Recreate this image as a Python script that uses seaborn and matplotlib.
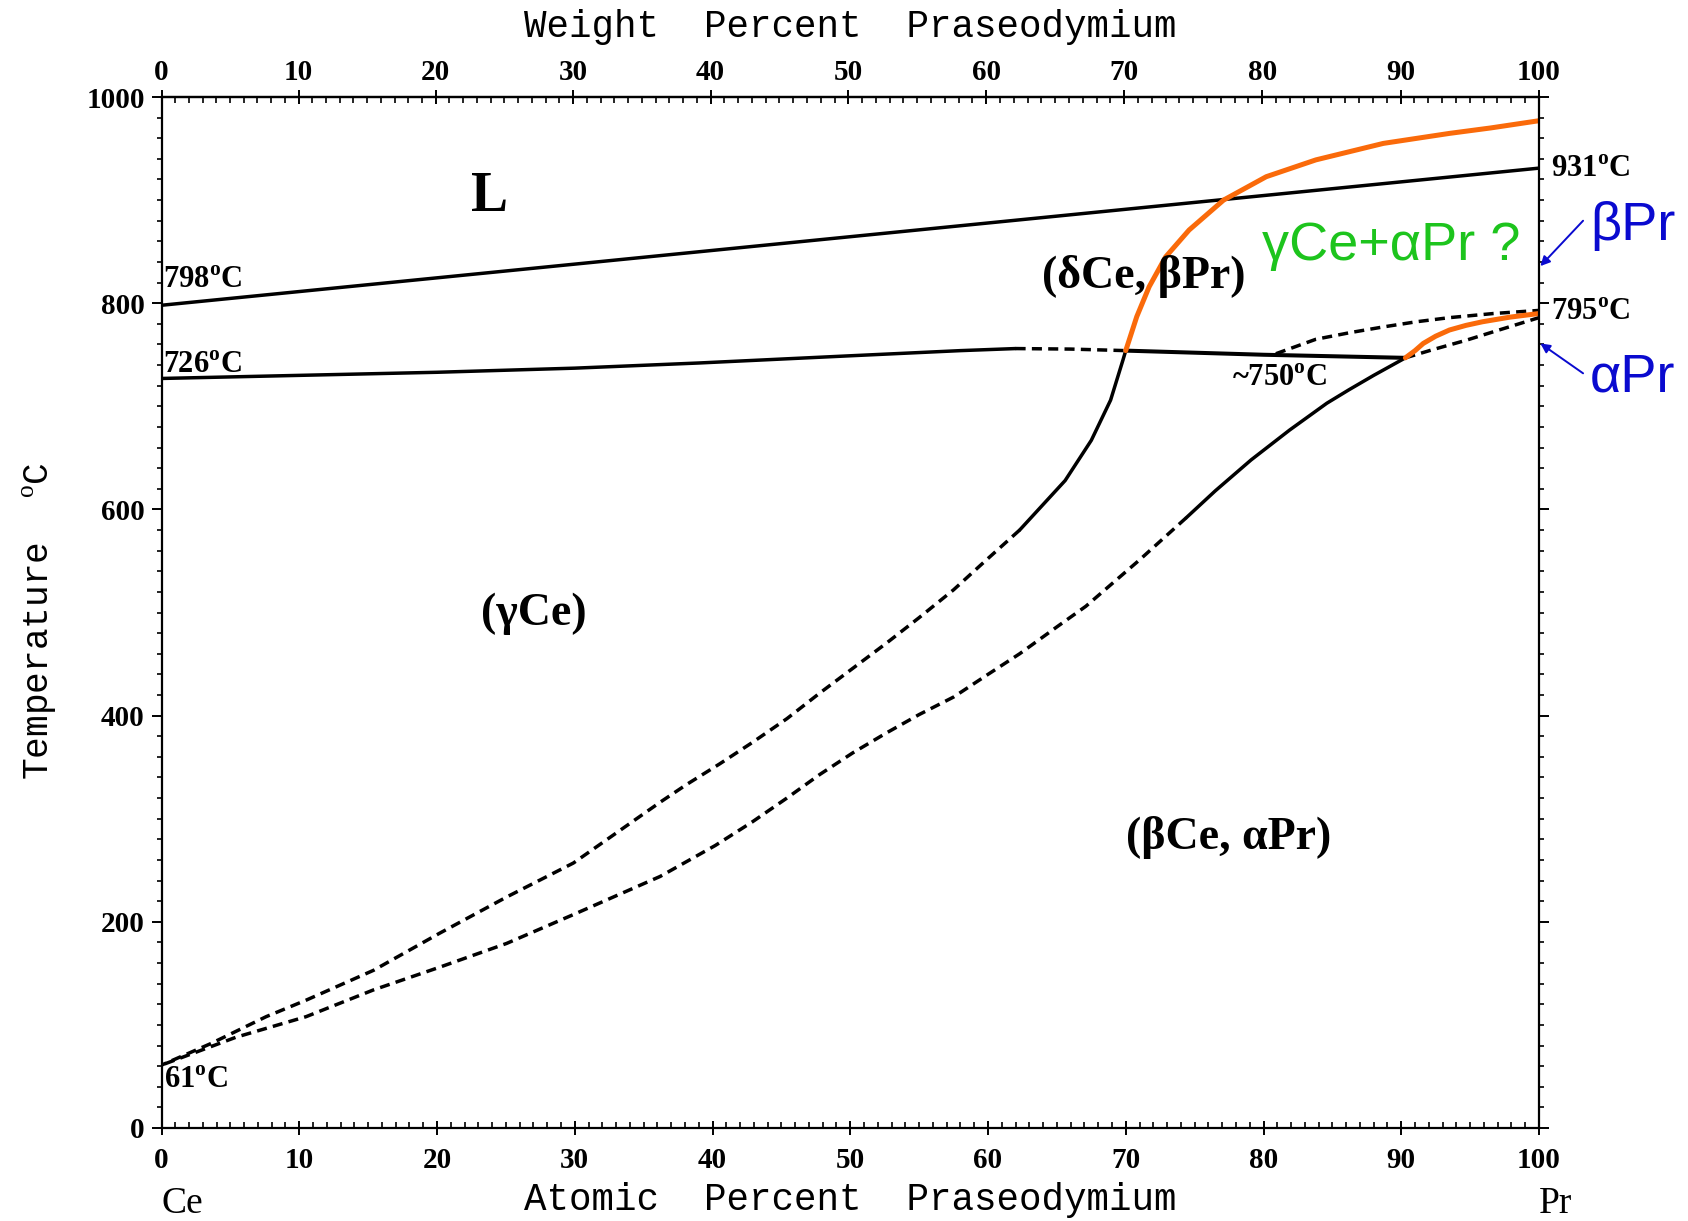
import numpy as np
import matplotlib
matplotlib.use("Agg")
import matplotlib.pyplot as plt
import seaborn as sns
from matplotlib.ticker import MultipleLocator

# ---------------- data (atomic % Pr, temperature in deg C) ----------------
liq_x = [0, 100]
liq_T = [798, 931]

sol_x = [0, 10, 20, 30, 39, 50, 58, 62]
sol_T = [727, 730, 733, 737, 742, 749, 754, 756]
sol_dash_x = [62, 66, 70]
sol_dash_T = [756, 755.5, 754]

iso_x = [70, 80, 90.3]
iso_T = [754, 750, 747]

lsolv_x = [70, 69.8, 68.9, 67.5, 65.6, 63.4, 62.3]
lsolv_T = [754, 745, 706, 667, 628, 596, 580]
lsolv_dash_x = [62.3, 59.8, 57.5, 55.0, 52.6, 50.2, 47.8, 45.4, 42.9, 40.5, 38.1,
                36.2, 33.0, 29.9, 25.05, 20.2, 15.4, 10.5, 7.6, 3.6, 0]
lsolv_dash_T = [580, 550, 522, 495, 470, 446, 422, 397, 374, 353, 333,
                316, 286, 257, 224, 189, 153, 124, 108, 82, 61]

rsolv_x = [90.3, 88, 86.2, 84.6, 81.9, 79.1, 76.5, 74.4]
rsolv_T = [747, 730, 716, 703, 677, 648, 618, 592]
rsolv_dash_x = [74.4, 71.0, 67.1, 65.1, 62.3, 60.0, 57.5, 55.0, 52.6, 50.2, 47.8,
                45.4, 42.9, 40.2, 36.2, 29.9, 25.05, 20.2, 15.4, 10.5, 5.4, 0]
rsolv_dash_T = [592, 551, 506, 487, 460, 440, 418, 401, 383, 364, 343,
                320, 297, 274, 244, 207, 179, 156, 134, 108, 88, 61]

pr_up_dash_x = [80.9, 83.8, 86.3, 88.7, 91.1, 93.5, 96.7, 100]
pr_up_dash_T = [751, 765, 771.5, 777, 782, 786, 790, 793]
pr_lo_dash_x = [90.3, 92.3, 94.7, 97.1, 100]
pr_lo_dash_T = [747, 755, 764, 774, 786]

orange_up_x = [70, 70.8, 71.7, 72.9, 74.6, 77.1, 80.2, 83.8, 88.7, 93.5, 96.5, 100]
orange_up_T = [754, 787, 816, 845, 871, 900, 922.7, 939, 955, 964.7, 970, 977]
orange_lo_x = [90.3, 91, 91.6, 92.5, 93.5, 94.7, 95.9, 97.9, 100]
orange_lo_T = [747, 754, 761, 768, 774, 778.5, 782, 786.5, 790]

x_ticks = list(range(0, 101, 10))
y_ticks = list(range(0, 1001, 200))
wt_ticks = list(range(0, 101, 10))

M_CE, M_PR = 140.116, 140.908

# ---------------- style ----------------
sns.set_style("ticks")
plt.rcParams['font.family'] = ['Liberation Serif', 'DejaVu Serif']
plt.rcParams['mathtext.fontset'] = 'custom'
plt.rcParams['mathtext.rm'] = 'Liberation Serif'
plt.rcParams['mathtext.bf'] = 'Liberation Serif:bold'
plt.rcParams['axes.linewidth'] = 1.6
for key in ['text.color', 'axes.labelcolor', 'xtick.color', 'ytick.color', 'axes.edgecolor']:
    plt.rcParams[key] = 'black'

fig = plt.figure(figsize=(16.88, 12.21), dpi=100)
ax = fig.add_axes([161.5 / 1688, 1 - 1128 / 1221, 1377.5 / 1688, 1031 / 1221])

BLACK_LW = 2.5
DASH = (0, (2.9, 1.8))


def draw(x, y, color="black", lw=BLACK_LW, ls="-"):
    sns.lineplot(x=x, y=y, ax=ax, color=color, linewidth=lw, linestyle=ls,
                 sort=False, estimator=None, legend=False)


draw(liq_x, liq_T)
draw(sol_x, sol_T)
draw(sol_dash_x, sol_dash_T, ls=DASH)
draw(iso_x, iso_T, lw=2.9)
draw(lsolv_x, lsolv_T)
draw(lsolv_dash_x, lsolv_dash_T, ls=DASH)
draw(rsolv_x, rsolv_T)
draw(rsolv_dash_x, rsolv_dash_T, ls=DASH)
draw(pr_up_dash_x, pr_up_dash_T, ls=DASH)
draw(pr_lo_dash_x, pr_lo_dash_T, ls=DASH)
ORANGE = "#FA6A0A"
draw(orange_up_x, orange_up_T, color=ORANGE, lw=3.6)
draw(orange_lo_x, orange_lo_T, color=ORANGE, lw=3.6)

ax.set_xlim(0, 100)
ax.set_ylim(0, 1000)
ax.grid(False)
for s in ax.spines.values():
    s.set_color("black")
    s.set_linewidth(1.6)

# ticks
TICK_FS = 21
ax.set_xticks(x_ticks, [str(v) for v in x_ticks], fontweight="bold", fontsize=TICK_FS)
ax.set_yticks(y_ticks, [str(v) for v in y_ticks], fontweight="bold", fontsize=TICK_FS)
ax.xaxis.set_minor_locator(MultipleLocator(1))
ax.yaxis.set_minor_locator(MultipleLocator(20))
ax.tick_params(axis="x", which="major", direction="inout", length=10, width=1.4,
               pad=9, top=False, bottom=True, colors="black")
ax.tick_params(axis="x", which="minor", direction="in", length=4, width=1.2,
               top=False, bottom=True)
ax.tick_params(axis="y", which="major", direction="out", length=7, width=1.4,
               pad=5, left=True, right=True, labelright=False, colors="black")
ax.tick_params(axis="y", which="minor", direction="out", length=3.5, width=1.2,
               left=True, right=True)


def at2wt(a):
    a = np.asarray(a, dtype=float)
    return 100 * a * M_PR / (a * M_PR + (100 - a) * M_CE)


def wt2at(w):
    w = np.asarray(w, dtype=float)
    return 100 * (w / M_PR) / (w / M_PR + (100 - w) / M_CE)


secax = ax.secondary_xaxis("top", functions=(at2wt, wt2at))
secax.set_xticks(wt_ticks, [str(v) for v in wt_ticks], fontweight="bold", fontsize=TICK_FS)
secax.xaxis.set_minor_locator(MultipleLocator(1))
secax.tick_params(which="major", direction="inout", length=10, width=1.4, pad=3,
                  colors="black")
secax.tick_params(which="minor", direction="in", length=4, width=1.2)
secax.spines["top"].set_linewidth(1.6)

# axis titles
MONO = "Liberation Mono"
secax.set_xlabel("Weight  Percent  Praseodymium", family=MONO, fontsize=27)
secax.xaxis.set_label_coords(0.5, 1.068, transform=ax.transAxes)
secax.xaxis.label.set_va("center")
ax.set_xlabel("Atomic  Percent  Praseodymium", family=MONO, fontsize=27)
ax.xaxis.set_label_coords(0.5, -0.07)
ax.xaxis.label.set_va("center")
ax.set_ylabel("Temperature  $^{\\mathrm{o}}$C", family=MONO, fontsize=26)
ax.yaxis.set_label_coords(-0.088, 0.492)
ax.yaxis.label.set_va("center")

ax.text(1.5, -0.073, "Ce", transform=ax.get_xaxis_transform(),
        fontsize=27, ha="center", va="center", clip_on=False)
ax.text(101.2, -0.073, "Pr", transform=ax.get_xaxis_transform(),
        fontsize=27, ha="center", va="center", clip_on=False)

# phase labels
ax.text(23.8, 903, "L", fontsize=40, fontweight="bold", ha="center", va="center")
ax.text(27.0, 499, "(γCe)", fontsize=33, fontweight="bold", ha="center", va="center")
ax.text(71.3, 826, "(δCe, βPr)", fontsize=33, fontweight="bold", ha="center", va="center")
ax.text(77.5, 282, "(βCe, αPr)", fontsize=33, fontweight="bold", ha="center", va="center")

# temperature annotations
tkw = dict(fontsize=22, fontweight="bold", va="center", clip_on=False)
ax.text(0.1, 822, "798$^{\\mathbf{o}}$C", ha="left", **tkw)
ax.text(0.1, 740, "726$^{\\mathbf{o}}$C", ha="left", **tkw)
ax.text(0.2, 46, "61$^{\\mathbf{o}}$C", ha="left", **tkw)
ax.text(100.9, 930, "931$^{\\mathbf{o}}$C", ha="left", **tkw)
ax.text(100.9, 791, "795$^{\\mathbf{o}}$C", ha="left", **tkw)
ax.text(81.2, 727, "~750$^{\\mathbf{o}}$C", ha="center", **tkw)

# coloured annotations
GREEN = "#1DC41D"
BLUE = "#0A0ACF"
SANS = ["Liberation Sans", "DejaVu Sans"]
ax.text(89.3, 855, "γCe+αPr ?", color=GREEN, family=SANS, fontsize=39,
        ha="center", va="center")
ax.text(103.7, 875, "βPr", color=BLUE, family=SANS, fontsize=39,
        ha="left", va="center", clip_on=False)
ax.text(103.7, 728, "αPr", color=BLUE, family=SANS, fontsize=39,
        ha="left", va="center", clip_on=False)
akw = dict(arrowstyle="-|>", color=BLUE, lw=1.4, mutation_scale=14, shrinkA=0, shrinkB=0)
ax.annotate("", xy=(100.1, 836), xytext=(103.2, 880), arrowprops=akw,
            annotation_clip=False)
ax.annotate("", xy=(100.1, 761), xytext=(103.2, 732), arrowprops=akw,
            annotation_clip=False)

fig.savefig("out.png", dpi=100, facecolor="white")
